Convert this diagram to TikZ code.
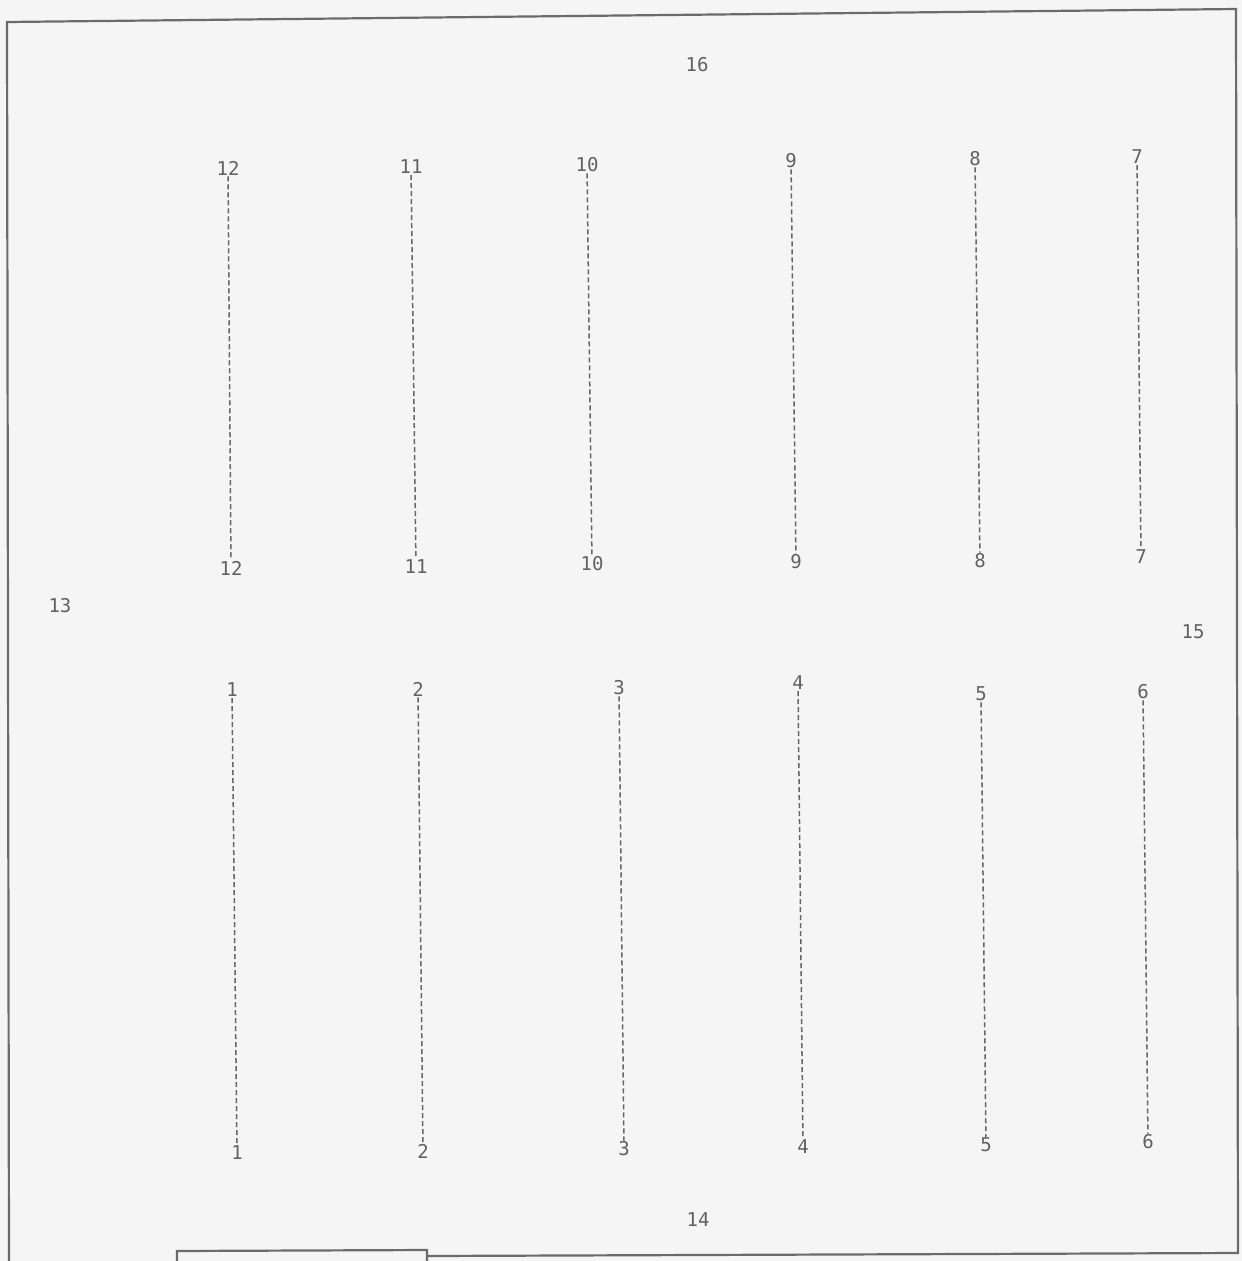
\documentclass[tikz,border=0pt]{standalone}
\usepackage{fontspec}
\setmainfont{DejaVu Sans Mono}
\begin{document}
\begin{tikzpicture}[x=1pt,y=-1pt,
  lbl/.style={text=black!62, font=\fontsize{19}{19}\selectfont, inner sep=1pt},
  wire/.style={draw=black!60, line width=1.5pt, dash pattern=on 5pt off 3pt},
  frame/.style={draw=black!58, line width=2.2pt}]
\fill[black!4] (0,0) rectangle (1242,1261);
\useasboundingbox (0,0) rectangle (1242,1261);
% frame
\draw[frame] (9,1261) -- (7,22) -- (1236,9) -- (1238,1253) -- (427,1256);
\draw[frame] (177,1261) -- (177,1251) -- (427,1250) -- (427,1261);
% outer labels
\node[lbl] (n16) at (697,65) {16};
\node[lbl] (n13) at (60,606) {13};
\node[lbl] (n15) at (1193,632) {15};
\node[lbl] (n14) at (698,1220) {14};
% upper row
\foreach \n/\xt/\yt/\xb/\yb in {12/228/168/231/568, 11/411/167/416/567, 10/587/165/592/564, 9/791/161/796/562, 8/975/159/980/561, 7/1137/157/1141/557}{
  \node[lbl] (t\n) at (\xt,\yt) {\n};
  \node[lbl] (b\n) at (\xb,\yb) {\n};
  \draw[wire] (t\n) -- (b\n);
}
% lower row
\foreach \n/\xt/\yt/\xb/\yb in {1/232/690/237/1153, 2/418/689/423/1151, 3/619/688/624/1149, 4/798/683/803/1147, 5/981/694/986/1145, 6/1143/692/1148/1142}{
  \node[lbl] (t\n) at (\xt,\yt) {\n};
  \node[lbl] (b\n) at (\xb,\yb) {\n};
  \draw[wire] (t\n) -- (b\n);
}
\end{tikzpicture}
\end{document}
